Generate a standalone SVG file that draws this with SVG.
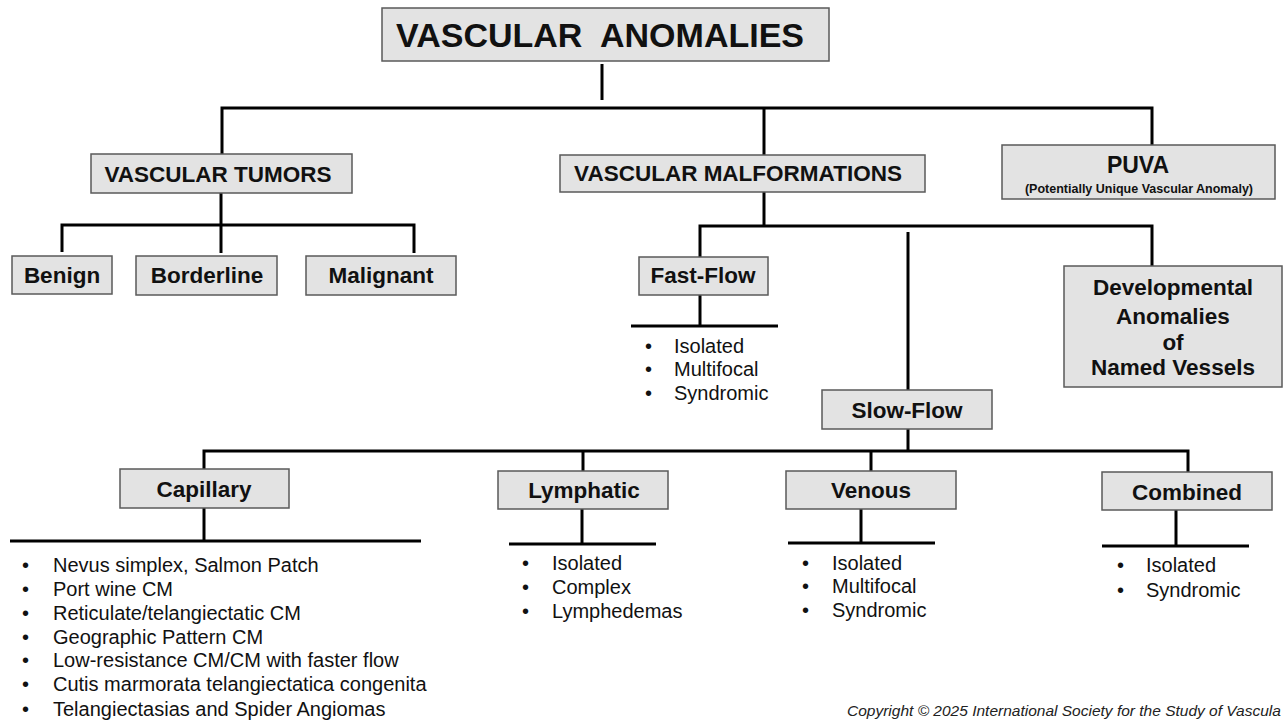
<svg xmlns="http://www.w3.org/2000/svg" width="1283" height="724" viewBox="0 0 1283 724">
<style>
.box{fill:#e3e3e3;stroke:#5a5a5a;stroke-width:1.5}
.ln{stroke:#000;stroke-width:3;fill:none;stroke-linecap:butt}
.lb{font-family:"Liberation Sans",Arial,sans-serif;font-weight:bold;font-size:22.5px;fill:#111;text-anchor:middle}
.it{font-family:"Liberation Sans",Arial,sans-serif;font-size:20px;fill:#111}
.cp{font-family:"Liberation Sans",Arial,sans-serif;font-style:italic;font-size:15.5px;fill:#222}
</style>
<rect width="1283" height="724" fill="#fff"/>
<g id="connectors">
<path class="ln" d="M602 64V100"/>
<path class="ln" d="M222 154V108H1152V145"/>
<path class="ln" d="M764 108V155"/>
<path class="ln" d="M221 193V225"/>
<path class="ln" d="M62 252V225H414V253"/>
<path class="ln" d="M221 225V253"/>
<path class="ln" d="M764 192V226"/>
<path class="ln" d="M700 257V226H1152V266"/>
<path class="ln" d="M908 232V390"/>
<path class="ln" d="M700 295V326"/>
<path class="ln" d="M631 326H778"/>
<path class="ln" d="M908 429V451"/>
<path class="ln" d="M204 469V451H1188V472"/>
<path class="ln" d="M583 451V471"/>
<path class="ln" d="M871 451V471"/>
<path class="ln" d="M204 508V541"/>
<path class="ln" d="M10 541H421"/>
<path class="ln" d="M582 509V544"/>
<path class="ln" d="M509 544H656"/>
<path class="ln" d="M861 509V543"/>
<path class="ln" d="M788 543H935"/>
<path class="ln" d="M1176 510V546"/>
<path class="ln" d="M1102 546H1249"/>
</g>
<g id="vascular-anomalies">
<rect class="box" x="382" y="8" width="447" height="53"/>
<text class="lb" x="600" y="47" style="font-size:34px" xml:space="preserve">VASCULAR  ANOMALIES</text>
</g>
<g id="vascular-tumors">
<rect class="box" x="91" y="154" width="261" height="39"/>
<text class="lb" x="218" y="182">VASCULAR TUMORS</text>
</g>
<g id="vascular-malformations">
<rect class="box" x="560" y="155" width="365" height="37"/>
<text class="lb" x="738" y="181">VASCULAR MALFORMATIONS</text>
</g>
<g id="puva">
<rect class="box" x="1002" y="145" width="273" height="54"/>
<text class="lb" x="1138" y="173" style="font-size:23px">PUVA</text>
<text class="lb" x="1139" y="193" style="font-size:12.5px">(Potentially Unique Vascular Anomaly)</text>
</g>
<g id="benign">
<rect class="box" x="12" y="256" width="100" height="38"/>
<text class="lb" x="62" y="283">Benign</text>
</g>
<g id="borderline">
<rect class="box" x="136" y="256" width="141" height="39"/>
<text class="lb" x="207" y="283">Borderline</text>
</g>
<g id="malignant">
<rect class="box" x="306" y="256" width="150" height="39"/>
<text class="lb" x="381" y="283">Malignant</text>
</g>
<g id="fast-flow">
<rect class="box" x="639" y="257" width="129" height="38"/>
<text class="lb" x="703" y="283">Fast-Flow</text>
<text class="it"><tspan x="645" y="353">•</tspan><tspan x="674" y="353">Isolated</tspan><tspan x="645" y="376">•</tspan><tspan x="674" y="376">Multifocal</tspan><tspan x="645" y="400">•</tspan><tspan x="674" y="400">Syndromic</tspan></text>
</g>
<g id="developmental">
<rect class="box" x="1064" y="266" width="218" height="121"/>
<text class="lb" x="1173" y="295">Developmental</text>
<text class="lb" x="1173" y="324">Anomalies</text>
<text class="lb" x="1173" y="350">of</text>
<text class="lb" x="1173" y="375">Named Vessels</text>
</g>
<g id="slow-flow">
<rect class="box" x="822" y="390" width="170" height="39"/>
<text class="lb" x="907" y="418">Slow-Flow</text>
</g>
<g id="capillary">
<rect class="box" x="120" y="469" width="169" height="39"/>
<text class="lb" x="204" y="497">Capillary</text>
<text class="it"><tspan x="22" y="572">•</tspan><tspan x="53" y="572">Nevus simplex, Salmon Patch</tspan><tspan x="22" y="596">•</tspan><tspan x="53" y="596">Port wine CM</tspan><tspan x="22" y="620">•</tspan><tspan x="53" y="620">Reticulate/telangiectatic CM</tspan><tspan x="22" y="644">•</tspan><tspan x="53" y="644">Geographic Pattern CM</tspan><tspan x="22" y="667">•</tspan><tspan x="53" y="667">Low-resistance CM/CM with faster flow</tspan><tspan x="22" y="691">•</tspan><tspan x="53" y="691">Cutis marmorata telangiectatica congenita</tspan><tspan x="22" y="716">•</tspan><tspan x="53" y="716">Telangiectasias and Spider Angiomas</tspan></text>
</g>
<g id="lymphatic">
<rect class="box" x="498" y="471" width="170" height="38"/>
<text class="lb" x="584" y="498">Lymphatic</text>
<text class="it"><tspan x="522" y="570">•</tspan><tspan x="552" y="570">Isolated</tspan><tspan x="522" y="594">•</tspan><tspan x="552" y="594">Complex</tspan><tspan x="522" y="618">•</tspan><tspan x="552" y="618">Lymphedemas</tspan></text>
</g>
<g id="venous">
<rect class="box" x="786" y="471" width="170" height="38"/>
<text class="lb" x="871" y="498">Venous</text>
<text class="it"><tspan x="802" y="570">•</tspan><tspan x="832" y="570">Isolated</tspan><tspan x="802" y="593">•</tspan><tspan x="832" y="593">Multifocal</tspan><tspan x="802" y="617">•</tspan><tspan x="832" y="617">Syndromic</tspan></text>
</g>
<g id="combined">
<rect class="box" x="1102" y="472" width="170" height="38"/>
<text class="lb" x="1187" y="500">Combined</text>
<text class="it"><tspan x="1117" y="572">•</tspan><tspan x="1146" y="572">Isolated</tspan><tspan x="1117" y="597">•</tspan><tspan x="1146" y="597">Syndromic</tspan></text>
</g>
<text class="cp" x="847" y="716">Copyright © 2025 International Society for the Study of Vascula</text>
</svg>
